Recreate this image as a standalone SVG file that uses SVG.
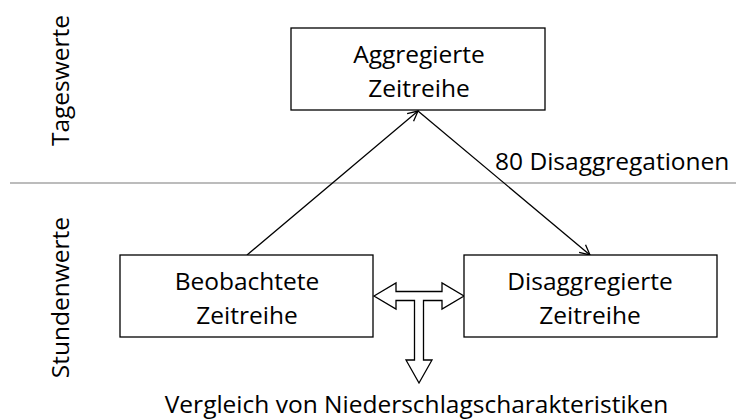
<svg xmlns="http://www.w3.org/2000/svg" width="736" height="419" viewBox="0 0 736 419">
<defs>
<style>
.box{fill:#fff;stroke:#000;stroke-width:1.3}
.t{font-family:"Open Sans","Lato",sans-serif;font-size:24.5px;fill:#000}
.c{text-anchor:middle}
.ln{stroke:#000;stroke-width:1.3;fill:none}
</style>
<marker id="open" viewBox="0 0 12 12" refX="11" refY="6" markerWidth="12" markerHeight="12" markerUnits="userSpaceOnUse" orient="auto">
<path d="M1,1 L11,6 L1,11" fill="none" stroke="#000" stroke-width="1.3"/>
</marker>
</defs>
<rect width="736" height="419" fill="#fff"/>
<line x1="10" y1="183" x2="736" y2="183" stroke="#a6a6a6" stroke-width="1.3"/>
<text class="t c" transform="translate(69,80.5) rotate(-90)">Tageswerte</text>
<text class="t c" transform="translate(69,297.5) rotate(-90)">Stundenwerte</text>
<g id="connectors">
<line class="ln" x1="247" y1="255" x2="418" y2="111" marker-end="url(#open)"/>
<line class="ln" x1="418" y1="111" x2="590" y2="255" marker-end="url(#open)"/>
<text class="t" x="495" y="170">80 Disaggregationen</text>
<polygon class="box" points="374,296 396,283 396,291.5 442,291.5 442,283 464,296 442,309 442,300.5 423.5,300.5 423.5,360 432,360 419,383 406,360 414.5,360 414.5,300.5 396,300.5 396,309"/>
</g>
<g id="aggregiert">
<rect class="box" x="291" y="28" width="254" height="82"/>
<text class="t c" x="419" y="63">Aggregierte</text>
<text class="t c" x="419" y="97">Zeitreihe</text>
</g>
<g id="beobachtet">
<rect class="box" x="120" y="255" width="253" height="82"/>
<text class="t c" x="247" y="290">Beobachtete</text>
<text class="t c" x="247" y="324">Zeitreihe</text>
</g>
<g id="disaggregiert">
<rect class="box" x="464" y="255" width="253" height="82"/>
<text class="t c" x="590" y="290">Disaggregierte</text>
<text class="t c" x="590" y="324">Zeitreihe</text>
</g>
<text id="vergleich" class="t c" x="416.5" y="413">Vergleich von Niederschlagscharakteristiken</text>
</svg>
